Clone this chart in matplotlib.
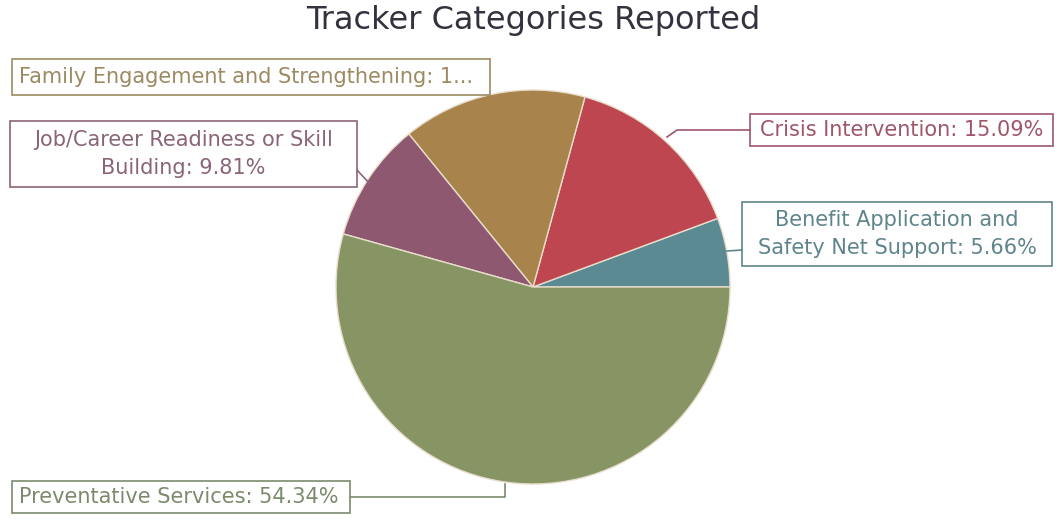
import matplotlib.pyplot as plt
from matplotlib.patches import Rectangle

# Datos del gráfico
categorias = ["Benefit Application and\nSafety Net Support",
              "Crisis Intervention",
              "Family Engagement and Strengthening",
              "Job/Career Readiness or Skill\nBuilding",
              "Preventative Services"]
porcentajes = [5.66, 15.09, 15.10, 9.81, 54.34]
etiquetas = ["Benefit Application and\nSafety Net Support: 5.66%",
             "Crisis Intervention: 15.09%",
             "Family Engagement and Strengthening: 1...",
             "Job/Career Readiness or Skill\nBuilding: 9.81%",
             "Preventative Services: 54.34%"]

colores = ["#5b8a93", "#be4651", "#a8844c", "#8e5870", "#879565"]
cor_texto = ["#5f858c", "#a0566a", "#9c8a62", "#8a6478", "#7c8a6c"]

H = 519
fig = plt.figure(figsize=(10.58, 5.19), dpi=100)
ax = fig.add_axes([0, 0, 1, 1])

cx, cy, r = 533, H - 287, 197
ax.pie(porcentajes, colors=colores, startangle=0, counterclock=True,
       center=(cx, cy), radius=r, frame=True,
       wedgeprops=dict(edgecolor="#e8dccb", linewidth=1))
ax.set_xlim(0, 1058)
ax.set_ylim(0, H)
ax.set_aspect("equal")
ax.axis("off")

# caixas: (x0, y0_img, x1, y1_img, alinhamento)
caixas = [(742, 202, 1052, 266, "center"),
          (750, 114, 1053, 146, "center"),
          (12, 59, 490, 95, "left"),
          (10, 121, 357, 187, "center"),
          (12, 481, 350, 513, "left")]

for i, (x0, y0, x1, y1, al) in enumerate(caixas):
    ax.add_patch(Rectangle((x0, H - y1), x1 - x0, y1 - y0, fill=False,
                           edgecolor=cor_texto[i], linewidth=1.2))
    yc = H - (y0 + y1) / 2
    if al == "center":
        ax.text((x0 + x1) / 2, yc, etiquetas[i], ha="center", va="center",
                fontsize=15, color=cor_texto[i], linespacing=1.5)
    else:
        ax.text(x0 + 7, yc, etiquetas[i], ha="left", va="center",
                fontsize=15, color=cor_texto[i])

# linhas de ligação
linhas = [([727, 742], [251, 250]),
          ([667, 677, 750], [137, 130, 130]),
          ([370, 357], [184, 170]),
          ([505, 505, 350], [484, 497, 497])]
for i, (xs, ys) in zip([0, 1, 3, 4], linhas):
    ax.plot(xs, [H - y for y in ys], color=cor_texto[i], linewidth=1.2)

fig.text(533 / 1058, 1 - 21 / H, "Tracker Categories Reported", ha="center",
         va="center", fontsize=23, color="#33333f")

fig.savefig("out.png", dpi=100)
